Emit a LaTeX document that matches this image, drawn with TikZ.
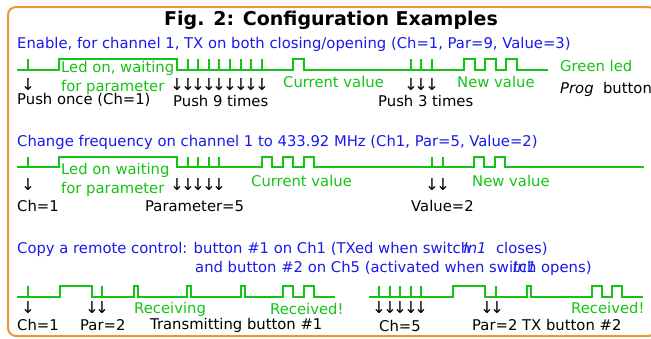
\documentclass[tikz,border=0pt]{standalone}
\usepackage{fontspec}
\setmainfont{DejaVu Sans}
\usepackage{tikz}
\usetikzlibrary{positioning}

\definecolor{framecol}{RGB}{238,150,50}
\definecolor{ledgreen}{RGB}{20,195,20}
\definecolor{capblue}{RGB}{25,25,235}

\tikzset{
  wave/.style={draw=ledgreen, line width=2.5pt},
  caption/.style={anchor=west, inner sep=0pt, text=capblue},
  ledtext/.style={anchor=west, inner sep=0pt, text=ledgreen},
  keytext/.style={anchor=west, inner sep=0pt},
  press/.style={inner sep=0pt, font=\fontsize{16.5}{18}\selectfont},
}

\begin{document}
\begin{tikzpicture}[x=1pt,y=-1pt,font=\fontsize{14.8}{17}\selectfont]
        \useasboundingbox (0,0) rectangle (651,338);
        \draw [framecol, line width=2pt, rounded corners=8pt] (8,7) rectangle (656,336);
        \node (title) [font=\fontsize{19}{22}\selectfont\bfseries] at (331,20) {Fig. 2: Configuration Examples};

        % enable TX on channel 1
        \node (enable) [caption] at (17,44) {Enable, for channel 1, TX on both closing/opening (Ch=1, Par=9, Value=3)};
        \draw [wave] (17,70) -- (28,70) -- (28,59) -- (28,70) -- (59,70) -- (59,59) -- (177,59) -- (177,70)
            \foreach \x in {188,198,209,219,230,241,251,262} { -- (\x,70) -- (\x,59) -- (\x,70) }
            -- (293,70) -- (293,59) -- (304,59) -- (304,70)
            \foreach \x in {411,421,432} { -- (\x,70) -- (\x,59) -- (\x,70) }
            \foreach \x in {464,485,506} { -- (\x,70) -- (\x,59) -- (\x+11,59) -- (\x+11,70) }
            -- (548,70);
        \node (led on a) [ledtext] at (61,68) {Led on, waiting};
        \node (for par a) [ledtext] at (61,87) {for parameter};
        \node (once) [keytext] at (17,100) {Push once (Ch=1)};
        \node (nine) [keytext] at (173,101) {Push 9 times};
        \node (cur a) [ledtext] at (283,82) {Current value};
        \node (three) [keytext] at (378,101) {Push 3 times};
        \node (new a) [ledtext] at (457,82) {New value};
        \node (green led) [ledtext] at (560,66) {Green led};
        \node (prog) [keytext] at (560,89) {\textit{Prog}\ \ button};
        \foreach \x in {28,177,188,198,209,219,230,241,251,262,411,421,432}
            \node (push a\x) [press] at (\x,85) {↓};

        % change frequency
        \node (freq) [caption] at (17,142) {Change frequency on channel 1 to 433.92 MHz (Ch1, Par=5, Value=2)};
        \draw [wave] (17,167) -- (28,167) -- (28,157) -- (28,167) -- (59,167) -- (59,157) -- (177,157) -- (177,167)
            \foreach \x in {188,198,209,219} { -- (\x,167) -- (\x,157) -- (\x,167) }
            \foreach \x in {262,283,304} { -- (\x,167) -- (\x,157) -- (\x+10,157) -- (\x+10,167) }
            \foreach \x in {432,443} { -- (\x,167) -- (\x,157) -- (\x,167) }
            \foreach \x in {474,495} { -- (\x,167) -- (\x,157) -- (\x+10,157) -- (\x+10,167) }
            -- (644,167);
        \node (led on b) [ledtext] at (61,170) {Led on waiting};
        \node (for par b) [ledtext] at (61,189) {for parameter};
        \node (ch one b) [keytext] at (17,206) {Ch=1};
        \node (par five) [keytext] at (145,206) {Parameter=5};
        \node (cur b) [ledtext] at (251,181) {Current value};
        \node (val two) [keytext] at (411,206) {Value=2};
        \node (new b) [ledtext] at (472,181) {New value};
        \foreach \x in {28,177,188,198,209,219,432,443}
            \node (push b\x) [press] at (\x,185) {↓};

        % copy a remote
        \node (copy) [caption] at (17,249) {Copy a remote control: button \#1 on Ch1 (TXed when switch\kern-0.45em\textit{In1}\ \ closes)};
        \node (copy two) [caption] at (195,268) {and button \#2 on Ch5 (activated when swi\rlap{\textit{In1}}tch opens)};
        \draw [wave] (17,297) -- (28,297) -- (28,286) -- (28,297) -- (60,297) -- (60,286) -- (92,286) -- (92,297)
            -- (102,297) -- (102,286) -- (102,297)
            \foreach \x in {134,187,241} { -- (\x,297) -- (\x,286) -- (\x+4,286) -- (\x+4,297) }
            \foreach \x in {283,304} { -- (\x,297) -- (\x,286) -- (\x+10,286) -- (\x+10,297) }
            -- (335,297);
        \draw [wave] (369,297)
            \foreach \x in {379,390,400,411,421} { -- (\x,297) -- (\x,286) -- (\x,297) }
            -- (453,297) -- (453,286) -- (485,286) -- (485,297) -- (496,297) -- (496,286) -- (496,297)
            -- (527,297) -- (527,286) -- (531,286) -- (531,297)
            \foreach \x in {592,612} { -- (\x,297) -- (\x,286) -- (\x+10,286) -- (\x+10,297) }
            -- (643,297);
        \node (ch one c) [keytext] at (17,325) {Ch=1};
        \node (par two c) [keytext] at (80,325) {Par=2};
        \node (receiving) [ledtext] at (134,309) {Receiving};
        \node (tx one) [keytext] at (150,325) {Transmitting button \#1};
        \node (rcvd c) [ledtext] at (270,309) {Received!};
        \node (ch five) [keytext] at (379,326) {Ch=5};
        \node (par two d) [keytext] at (472,325) {Par=2};
        \node (tx two) [keytext] at (522,325) {TX button \#2};
        \node (rcvd d) [ledtext] at (571,308) {Received!};
        \foreach \x in {28,92,102,379,390,400,411,421,487,497}
            \node (push c\x) [press] at (\x,308) {↓};
\end{tikzpicture}
\end{document}
